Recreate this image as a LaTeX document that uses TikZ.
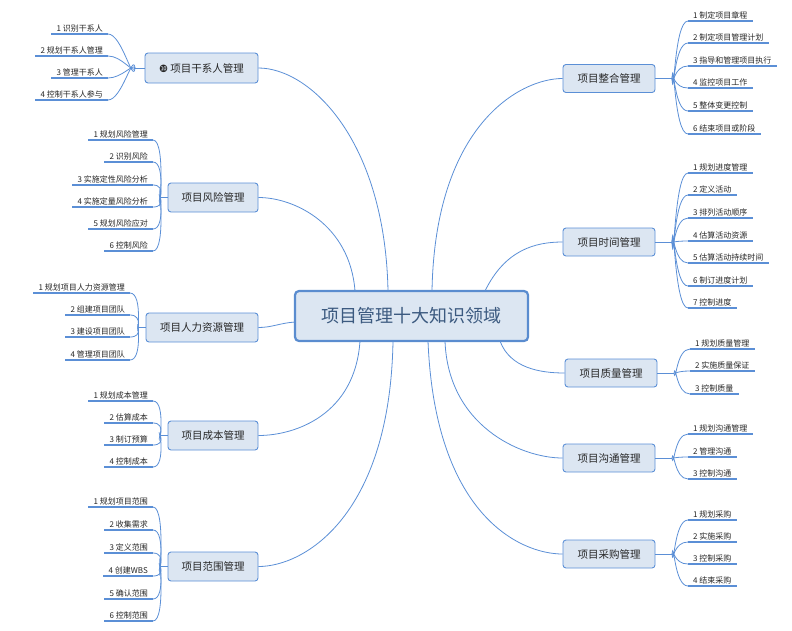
\documentclass[tikz,border=0pt]{standalone}
\usepackage{fontspec}
\setmainfont{Noto Sans CJK SC}
\newfontfamily\dejavu{DejaVu Sans}
\begin{document}
\begin{tikzpicture}[x=1pt,y=-1pt,
  conn/.style={draw=lnblue,line width=0.8pt},
  uline/.style={draw=lnblue,line width=1.6pt},
  leaf/.style={inner xsep=5pt,inner ysep=2pt,font=\fontsize{8}{9}\selectfont,text=black!85},
  topic/.style={draw=lnblue,fill=boxfill,rounded corners=3pt,line width=0.9pt,font=\fontsize{10.5}{12}\selectfont,text=black!85,minimum height=29pt,inner xsep=3pt},
  central/.style={draw=cenblue,fill=boxfill,rounded corners=4pt,line width=2.2pt,font=\fontsize{18}{21}\selectfont,text=centext,minimum width=233pt,minimum height=50pt}]
\definecolor{lnblue}{HTML}{5B8FD6}
\definecolor{cenblue}{HTML}{5A8CCF}
\definecolor{boxfill}{HTML}{DCE6F2}
\definecolor{centext}{HTML}{3C5A80}
\useasboundingbox (0,0) rectangle (792,630);
\node[central] (c) at (411.5,316) {项目管理十大知识领域};
% topics
\node[topic,minimum width=113pt,minimum height=30pt] (t1) at (201.5,68) {{\dejavu\fontsize{10}{11}\selectfont ❿} 项目干系人管理};
\node[topic,minimum width=90pt] (t2) at (213,197.5) {项目风险管理};
\node[topic,minimum width=112pt] (t3) at (202,327.5) {项目人力资源管理};
\node[topic,minimum width=90pt] (t4) at (213,435.5) {项目成本管理};
\node[topic,minimum width=90pt] (t5) at (213,566.5) {项目范围管理};
\node[topic,minimum width=92pt,minimum height=28pt] (r1) at (609,78.5) {项目整合管理};
\node[topic,minimum width=92pt,minimum height=28pt] (r2) at (609,242) {项目时间管理};
\node[topic,minimum width=92pt,minimum height=28pt] (r3) at (611,373) {项目质量管理};
\node[topic,minimum width=92pt,minimum height=28pt] (r4) at (609,458) {项目沟通管理};
\node[topic,minimum width=92pt,minimum height=28pt] (r5) at (609,554) {项目采购管理};
% central connectors
\coordinate (s1) at (388,291); \coordinate (s2) at (355,291); \coordinate (s3) at (295,322);
\coordinate (s4) at (360,341); \coordinate (s5) at (393,341);
\coordinate (e1) at (432,291); \coordinate (e2) at (485,291); \coordinate (e3) at (500,341);
\coordinate (e4) at (445,341); \coordinate (e5) at (428,341);
\draw[conn] (s1) .. controls (385,140) and (310,68) .. (t1.east);
\draw[conn] (s2) .. controls (350,225) and (295,197.5) .. (t2.east);
\draw[conn] (s3) .. controls (280,323) and (272,327.5) .. (t3.east);
\draw[conn] (s4) .. controls (355,415) and (295,435.5) .. (t4.east);
\draw[conn] (s5) .. controls (390,515) and (305,566.5) .. (t5.east);
\draw[conn] (e1) .. controls (435,125) and (520,78.5) .. (r1.west);
\draw[conn] (e2) .. controls (505,250) and (535,242) .. (r2.west);
\draw[conn] (e3) .. controls (510,368) and (540,373) .. (r3.west);
\draw[conn] (e4) .. controls (448,425) and (520,458) .. (r4.west);
\draw[conn] (e5) .. controls (435,515) and (520,554) .. (r5.west);
\newcommand\leftleaves[4]{%
  \coordinate (#1j) at (#3,0 |- #1.west);
  \draw[conn] (#1.west) -- (#1j);
  \foreach \yy/\tt [count=\i] in {#4}{
    \node[leaf,anchor=south east] (#1l\i) at (#2,\yy) {\tt};
    \draw[uline] (#1l\i.south west) -- (#1l\i.south east);
    \path (#1j); \pgfgetlastxy{\jx}{\jy}
    \draw[conn] (#1l\i.south east) .. controls +(14,0) and +(-2,{(\yy+\jy)*0.5}) .. (#1j);
  }}
\newcommand\rightleaves[4]{%
  \coordinate (#1j) at (#3,0 |- #1.east);
  \draw[conn] (#1.east) -- (#1j);
  \foreach \yy/\tt [count=\i] in {#4}{
    \node[leaf,anchor=south west] (#1l\i) at (#2,\yy) {\tt};
    \draw[uline] (#1l\i.south west) -- (#1l\i.south east);
    \path (#1j); \pgfgetlastxy{\jx}{\jy}
    \draw[conn] (#1l\i.south west) .. controls +(-14,0) and +(2,{(\yy+\jy)*0.5}) .. (#1j);
  }}
\leftleaves{t1}{108}{135}{34/1 识别干系人,56/2 规划干系人管理,78/3 管理干系人,100/4 控制干系人参与}
\leftleaves{t2}{153}{160}{140/1 规划风险管理,162/2 识别风险,185/3 实施定性风险分析,207/4 实施定量风险分析,229/5 规划风险应对,251/6 控制风险}
\leftleaves{t3}{130}{138}{293/1 规划项目人力资源管理,315/2 组建项目团队,337/3 建设项目团队,360/4 管理项目团队}
\leftleaves{t4}{153}{160}{401/1 规划成本管理,423/2 估算成本,445/3 制订预算,467/4 控制成本}
\leftleaves{t5}{153}{160}{507/1 规划项目范围,530/2 收集需求,553/3 定义范围,576/4 创建WBS,599/5 确认范围,621/6 控制范围}
\rightleaves{r1}{688}{672}{21/1 制定项目章程,43/2 制定项目管理计划,66/3 指导和管理项目执行,88/4 监控项目工作,111/5 整体变更控制,134/6 结束项目或阶段}
\rightleaves{r2}{688}{672}{173/1 规划进度管理,195/2 定义活动,218/3 排列活动顺序,241/4 估算活动资源,263/5 估算活动持续时间,286/6 制订进度计划,308/7 控制进度}
\rightleaves{r3}{690}{674}{349/1 规划质量管理,371/2 实施质量保证,394/3 控制质量}
\rightleaves{r4}{688}{672}{434/1 规划沟通管理,457/2 管理沟通,479/3 控制沟通}
\rightleaves{r5}{688}{672}{520/1 规划采购,542/2 实施采购,564/3 控制采购,586/4 结束采购}
\end{tikzpicture}
\end{document}
